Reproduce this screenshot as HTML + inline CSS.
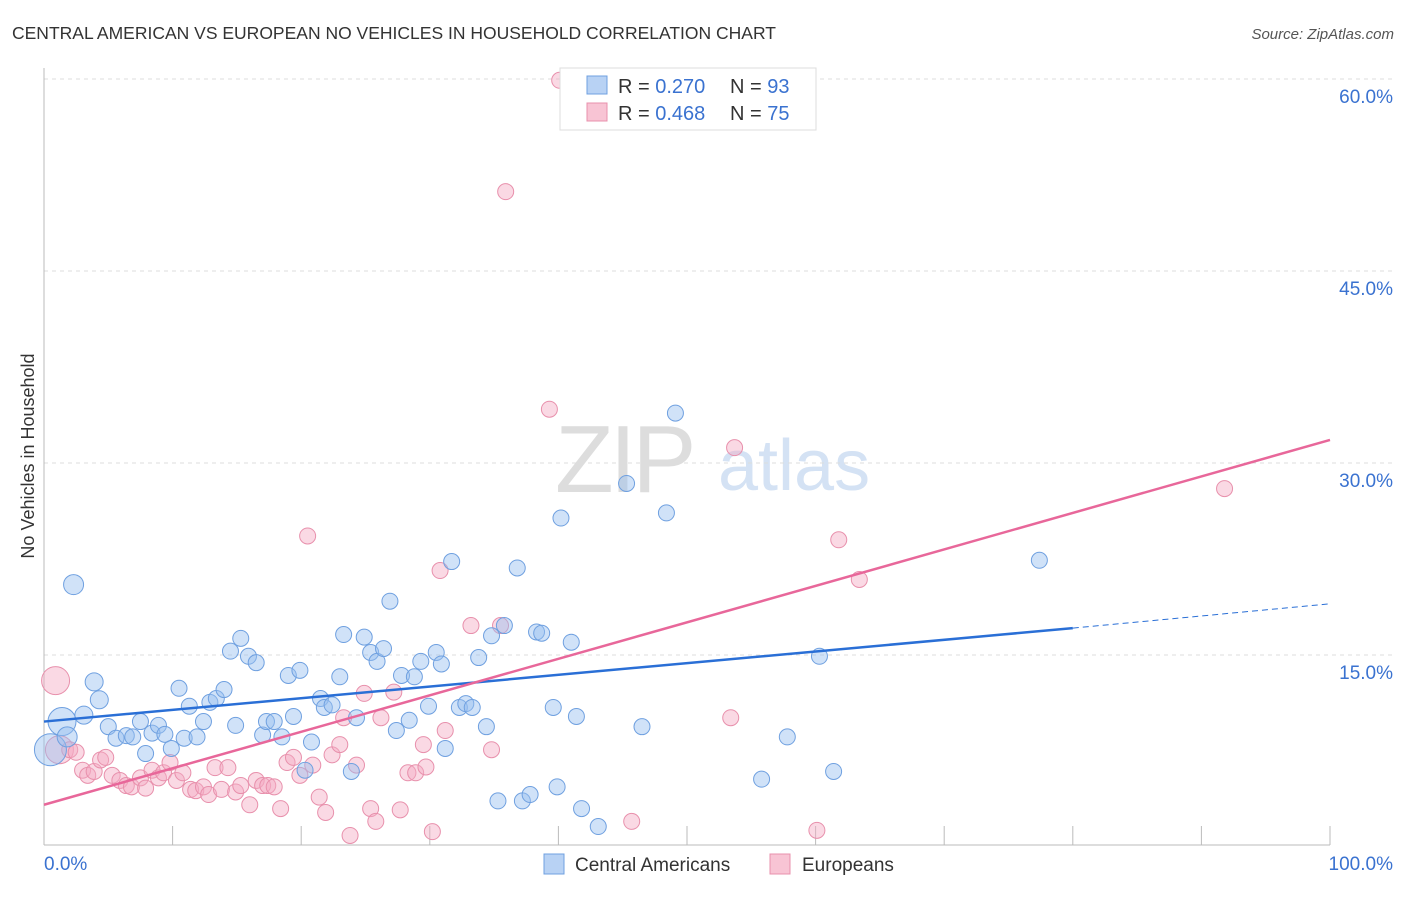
<!DOCTYPE html>
<html><head><meta charset="utf-8">
<style>
body{margin:0;background:#fff;font-family:"Liberation Sans",sans-serif;}
svg text{font-family:"Liberation Sans",sans-serif;}
</style></head>
<body>
<svg id="c" width="1406" height="892" xmlns="http://www.w3.org/2000/svg">
<text x="12" y="39" font-size="17.5" fill="#333">CENTRAL AMERICAN VS EUROPEAN NO VEHICLES IN HOUSEHOLD CORRELATION CHART</text>
<text x="1394" y="39" font-size="15" fill="#555" text-anchor="end" font-style="italic">Source: ZipAtlas.com</text>
<text transform="translate(34,456) rotate(-90)" font-size="18" fill="#333" text-anchor="middle">No Vehicles in Household</text>
<g>
<text x="555" y="492" font-size="96" fill="#ddd" font-family="Liberation Serif,serif" letter-spacing="-4">ZIP</text>
<text x="718" y="490" font-size="72" fill="#d4e2f4">atlas</text>
</g>
<g id="grid"></g>
<g id="pts"></g>
<g id="lines"></g>
<g>
<rect x="560" y="68" width="256" height="62" fill="#fff" stroke="#ddd"/>
<rect x="587" y="76" width="20" height="18" fill="#b8d2f4" stroke="#6fa0e0"/>
<text x="618" y="93" font-size="20" fill="#333">R = <tspan fill="#3a72d0">0.270</tspan></text>
<text x="730" y="93" font-size="20" fill="#333">N = <tspan fill="#3a72d0">93</tspan></text>
<rect x="587" y="103" width="20" height="18" fill="#f8c4d4" stroke="#e890ac"/>
<text x="618" y="120" font-size="20" fill="#333">R = <tspan fill="#3a72d0">0.468</tspan></text>
<text x="730" y="120" font-size="20" fill="#333">N = <tspan fill="#3a72d0">75</tspan></text>
</g>
<g>
<rect x="544" y="854" width="20" height="20" fill="#b8d2f4" stroke="#6fa0e0"/>
<text x="575" y="871" font-size="19" fill="#333">Central Americans</text>
<rect x="770" y="854" width="20" height="20" fill="#f8c4d4" stroke="#e890ac"/>
<text x="802" y="871" font-size="19" fill="#333">Europeans</text>
</g>
</svg>
<script>
const yTicks=[15,30,45,60];
const yTickLabels=["15.0%","30.0%","45.0%","60.0%"];
const xTicks=[0,10,20,30,40,50,60,70,80,90,100];
const blueX=[2.3,1.4,0.5,1.8,3.9,4.3,3.1,5.0,5.6,6.4,6.9,7.5,7.9,8.4,8.9,9.4,9.9,10.5,10.9,11.3,11.9,12.4,12.9,13.4,14.0,14.5,14.9,15.3,15.9,16.5,17.0,17.3,17.9,18.5,19.0,19.4,19.9,20.3,20.8,21.5,21.8,22.4,23.0,23.3,23.9,24.3,24.9,25.4,25.9,26.4,26.9,27.4,27.8,28.4,28.8,29.3,29.9,30.5,30.9,31.2,31.7,32.3,32.8,33.3,33.8,34.4,34.8,35.3,35.8,36.8,37.2,37.8,38.3,38.7,39.6,39.9,40.2,41.0,41.4,41.8,43.1,45.3,46.5,48.4,49.1,55.8,57.8,60.3,61.4,77.4];
const blueY=[20.5,9.8,7.6,8.6,12.9,11.5,10.3,9.4,8.5,8.7,8.6,9.8,7.3,8.9,9.5,8.8,7.7,12.4,8.5,11.0,8.6,9.8,11.3,11.6,12.3,15.3,9.5,16.3,14.9,14.4,8.75,9.8,9.8,8.6,13.4,10.2,13.8,6.0,8.2,11.6,10.9,11.1,13.3,16.6,5.9,10.1,16.4,15.2,14.5,15.5,19.2,9.1,13.4,9.9,13.3,14.5,11.0,15.2,14.3,7.7,22.3,10.9,11.2,10.9,14.8,9.4,16.5,3.6,17.3,21.8,3.6,4.1,16.8,16.7,10.9,4.7,25.7,16.0,10.2,3.0,1.6,28.4,9.4,26.1,33.9,5.3,8.6,14.9,5.9,22.4];
const blueR=[10,14,16,10,9,9,9,8,8,8,8,8,8,8,8,8,8,8,8,8,8,8,8,8,8,8,8,8,8,8,8,8,8,8,8,8,8,8,8,8,8,8,8,8,8,8,8,8,8,8,8,8,8,8,8,8,8,8,8,8,8,8,8,8,8,8,8,8,8,8,8,8,8,8,8,8,8,8,8,8,8,8,8,8,8,8,8,8,8,8];
const pinkX=[0.9,1.2,2.0,2.5,3.0,3.4,3.9,4.4,4.8,5.3,5.9,6.4,6.8,7.5,7.9,8.4,8.9,9.3,9.8,10.3,10.8,11.4,11.8,12.4,12.8,13.3,13.8,14.3,14.9,15.3,16.0,16.5,17.0,17.4,17.9,18.4,18.9,19.4,19.9,20.5,20.9,21.4,21.9,22.4,23.0,23.3,23.8,24.3,24.9,25.4,25.8,26.2,27.2,27.7,28.3,28.9,29.5,29.7,30.2,30.8,31.2,33.2,34.8,35.5,35.9,39.3,40.1,45.7,53.4,53.7,60.1,61.8,63.4,91.8];
const pinkY=[13.0,7.6,7.6,7.4,6.0,5.6,5.9,6.8,7.0,5.6,5.2,4.8,4.7,5.4,4.6,6.0,5.4,5.8,6.6,5.2,5.8,4.5,4.4,4.7,4.1,6.2,4.5,6.2,4.3,4.8,3.3,5.2,4.8,4.8,4.7,3.0,6.6,7.0,5.6,24.3,6.4,3.9,2.7,7.2,8.0,10.1,0.9,6.4,12.0,3.0,2.0,10.1,12.1,2.9,5.8,5.8,8.0,6.25,1.2,21.6,9.1,17.3,7.6,17.3,51.2,34.2,59.9,2.0,10.1,31.2,1.3,24.0,20.9,28.0];
const blueLine=[[0,9.8],[80,17.1]];
const blueDash=[[80,17.1],[100,19.0]];
const pinkLine=[[0,3.3],[100,31.8]];
const X=v=>44+v*12.86, Y=v=>847-v*12.8;
const NS="http://www.w3.org/2000/svg";
function mk(t,a,p){const e=document.createElementNS(NS,t);for(const k in a)e.setAttribute(k,a[k]);p.appendChild(e);return e;}
const grid=document.getElementById('grid');
yTicks.forEach((t,i)=>{
 const l=mk('line',{x1:44,x2:1394,y1:Y(t),y2:Y(t),stroke:'#ddd','stroke-dasharray':'4,4'},grid);
 
 
 const tx=mk('text',{x:1393,y:Y(t)+24,'font-size':19,fill:'#3a72d0','text-anchor':'end'},grid);
 tx.textContent=yTickLabels[i];
 
 
});
const ax=mk('line',{x1:44,x2:1330,y1:845,y2:845,stroke:'#bbb'},grid);


const ay=mk('line',{x1:44,x2:44,y1:68,y2:845,stroke:'#bbb'},grid);


xTicks.forEach(t=>{const l=mk('line',{x1:X(t),x2:X(t),y1:826,y2:845,stroke:'#bbb'},grid);
 
 });
[["0.0%",44,'start'],["100.0%",1393,'end']].forEach(d=>{const tx=mk('text',{x:d[1],y:870,'font-size':19,fill:'#3a72d0','text-anchor':d[2]},grid);tx.textContent=d[0];
 
 });
const pts=document.getElementById('pts');
pinkX.forEach((x,i)=>{const c=mk('circle',{cx:X(x),cy:Y(pinkY[i]),r:i<2?14:8,fill:'rgba(245,170,195,0.45)',stroke:'#e890ac','stroke-width':1},pts);
 
 });
blueX.forEach((x,i)=>{const c=mk('circle',{cx:X(x),cy:Y(blueY[i]),r:blueR[i],fill:'rgba(150,190,240,0.45)',stroke:'#6fa0e0','stroke-width':1},pts);
 
 });
const lines=document.getElementById('lines');
const b=mk('line',{x1:X(blueLine[0][0]),y1:Y(blueLine[0][1]),x2:X(blueLine[1][0]),y2:Y(blueLine[1][1]),stroke:'#2a6fd6','stroke-width':2.5},lines);


const bd=mk('line',{x1:X(blueDash[0][0]),y1:Y(blueDash[0][1]),x2:X(blueDash[1][0]),y2:Y(blueDash[1][1]),stroke:'#2a6fd6','stroke-width':1,'stroke-dasharray':'6,4'},lines);


const p=mk('line',{x1:X(pinkLine[0][0]),y1:Y(pinkLine[0][1]),x2:X(pinkLine[1][0]),y2:Y(pinkLine[1][1]),stroke:'#e8679a','stroke-width':2.5},lines);


</script>
</body></html>
